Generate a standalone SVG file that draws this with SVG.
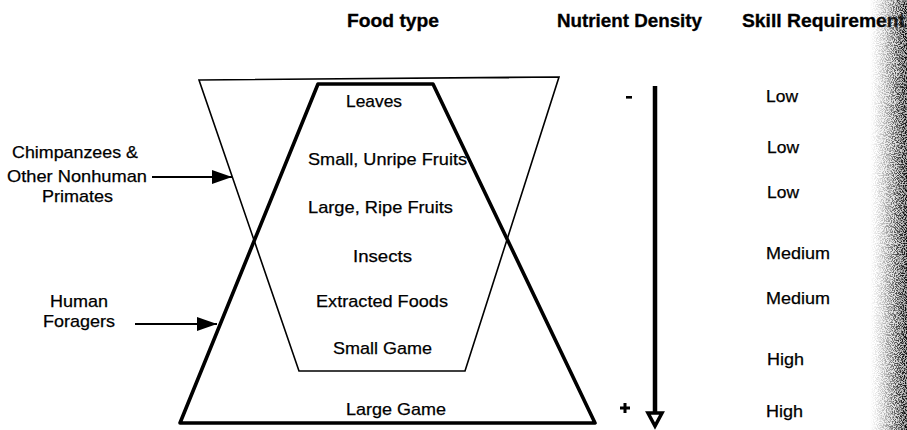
<svg xmlns="http://www.w3.org/2000/svg" width="907" height="430" viewBox="0 0 907 430">
  <style>
    text { font-family: "Liberation Sans", Arial, sans-serif; fill: #000; }
    .hdr { font-size: 18px; font-weight: bold; stroke: #000; stroke-width: 0.3; }
    .lbl { font-size: 17px; stroke: #000; stroke-width: 0.25; }
    .thin { fill: none; stroke: #000; stroke-width: 1.6; stroke-linejoin: miter; }
    .thick { fill: none; stroke: #000; stroke-width: 3.6; stroke-linejoin: round; }
    .conn { stroke: #000; stroke-width: 1.8; fill: none; }
  </style>
  <defs>
    <marker id="ah" markerUnits="userSpaceOnUse" markerWidth="21" markerHeight="15" refX="20" refY="7" orient="auto">
      <path d="M0,0 L20,7 L0,14 z" fill="#000"/>
    </marker>
    <linearGradient id="shade" x1="0" y1="0" x2="1" y2="0">
      <stop offset="0" stop-color="#000" stop-opacity="0"/>
      <stop offset="0.4" stop-color="#000" stop-opacity="0.25"/>
      <stop offset="0.75" stop-color="#000" stop-opacity="0.7"/>
      <stop offset="1" stop-color="#000" stop-opacity="0.95"/>
    </linearGradient>
    <linearGradient id="tone" x1="0" y1="0" x2="1" y2="0">
      <stop offset="0" stop-color="#888" stop-opacity="0"/>
      <stop offset="0.6" stop-color="#888" stop-opacity="0.25"/>
      <stop offset="1" stop-color="#666" stop-opacity="0.55"/>
    </linearGradient>
    <filter id="speck" x="0" y="0" width="1" height="1" color-interpolation-filters="sRGB">
      <feTurbulence type="fractalNoise" baseFrequency="0.9" numOctaves="2" seed="7" result="n"/>
      <feColorMatrix in="n" type="matrix" values="0 0 0 0 0  0 0 0 0 0  0 0 0 0 0  5 0 0 0 -2.1" result="dots"/>
      <feComposite in="dots" in2="SourceGraphic" operator="arithmetic" k1="1" k2="0" k3="0" k4="0"/>
    </filter>
  </defs>
  <rect width="907" height="430" fill="#fff"/>

  <g id="headers">
    <text class="hdr" x="347" y="27" textLength="92" lengthAdjust="spacingAndGlyphs">Food type</text>
    <text class="hdr" x="557" y="27" textLength="145" lengthAdjust="spacingAndGlyphs">Nutrient Density</text>
    <text class="hdr" x="742" y="27" textLength="163" lengthAdjust="spacingAndGlyphs">Skill Requirement</text>
  </g>

  <g id="chimp-range">
    <polygon class="thin" points="199,80 559,77 465,371 299,371"/>
  </g>
  <g id="human-range">
    <polygon class="thick" points="318,84 433,84 595,423 180,423"/>
  </g>

  <g id="food-types">
    <text class="lbl" x="346" y="107" textLength="56" lengthAdjust="spacingAndGlyphs">Leaves</text>
    <text class="lbl" x="308" y="165" textLength="159" lengthAdjust="spacingAndGlyphs">Small, Unripe Fruits</text>
    <text class="lbl" x="308" y="213" textLength="145" lengthAdjust="spacingAndGlyphs">Large, Ripe Fruits</text>
    <text class="lbl" x="353" y="262" textLength="59" lengthAdjust="spacingAndGlyphs">Insects</text>
    <text class="lbl" x="316" y="307" textLength="132" lengthAdjust="spacingAndGlyphs">Extracted Foods</text>
    <text class="lbl" x="333" y="354" textLength="99" lengthAdjust="spacingAndGlyphs">Small Game</text>
    <text class="lbl" x="346" y="415" textLength="100" lengthAdjust="spacingAndGlyphs">Large Game</text>
  </g>

  <g id="label-chimps">
    <text class="lbl" x="75" y="158" text-anchor="middle" textLength="126" lengthAdjust="spacingAndGlyphs">Chimpanzees &amp;</text>
    <text class="lbl" x="77" y="182" text-anchor="middle" textLength="140" lengthAdjust="spacingAndGlyphs">Other Nonhuman</text>
    <text class="lbl" x="77.5" y="202" text-anchor="middle" textLength="71" lengthAdjust="spacingAndGlyphs">Primates</text>
  </g>
  <g id="label-humans">
    <text class="lbl" x="79" y="307" text-anchor="middle" textLength="58" lengthAdjust="spacingAndGlyphs">Human</text>
    <text class="lbl" x="79" y="327" text-anchor="middle" textLength="72" lengthAdjust="spacingAndGlyphs">Foragers</text>
  </g>

  <g id="connectors">
    <line class="conn" x1="152" y1="177" x2="232" y2="177" marker-end="url(#ah)"/>
    <line class="conn" x1="135" y1="324" x2="217" y2="324" marker-end="url(#ah)"/>
  </g>

  <g id="density-axis">
    <line x1="655" y1="86" x2="655" y2="413" stroke="#000" stroke-width="4.5"/>
    <polygon points="648,413 662,413 655,426" fill="#fff" stroke="#000" stroke-width="3.5" stroke-linejoin="miter"/>
    <rect x="626" y="96" width="6" height="2.6" fill="#000"/>
    <rect x="620" y="406.5" width="10" height="3" fill="#000"/>
    <rect x="623.5" y="403" width="3" height="10" fill="#000"/>
  </g>

  <g id="skill-column">
    <text class="lbl" x="766" y="102" textLength="32" lengthAdjust="spacingAndGlyphs">Low</text>
    <text class="lbl" x="767" y="153" textLength="32" lengthAdjust="spacingAndGlyphs">Low</text>
    <text class="lbl" x="767" y="198" textLength="32" lengthAdjust="spacingAndGlyphs">Low</text>
    <text class="lbl" x="766" y="259" textLength="64" lengthAdjust="spacingAndGlyphs">Medium</text>
    <text class="lbl" x="766" y="304" textLength="64" lengthAdjust="spacingAndGlyphs">Medium</text>
    <text class="lbl" x="767" y="365" textLength="37" lengthAdjust="spacingAndGlyphs">High</text>
    <text class="lbl" x="766" y="417" textLength="37" lengthAdjust="spacingAndGlyphs">High</text>
  </g>

  <g id="page-shadow">
    <rect x="876" y="0" width="31" height="430" fill="url(#tone)"/>
    <rect x="870" y="0" width="37" height="430" fill="url(#shade)" filter="url(#speck)"/>
  </g>
</svg>
